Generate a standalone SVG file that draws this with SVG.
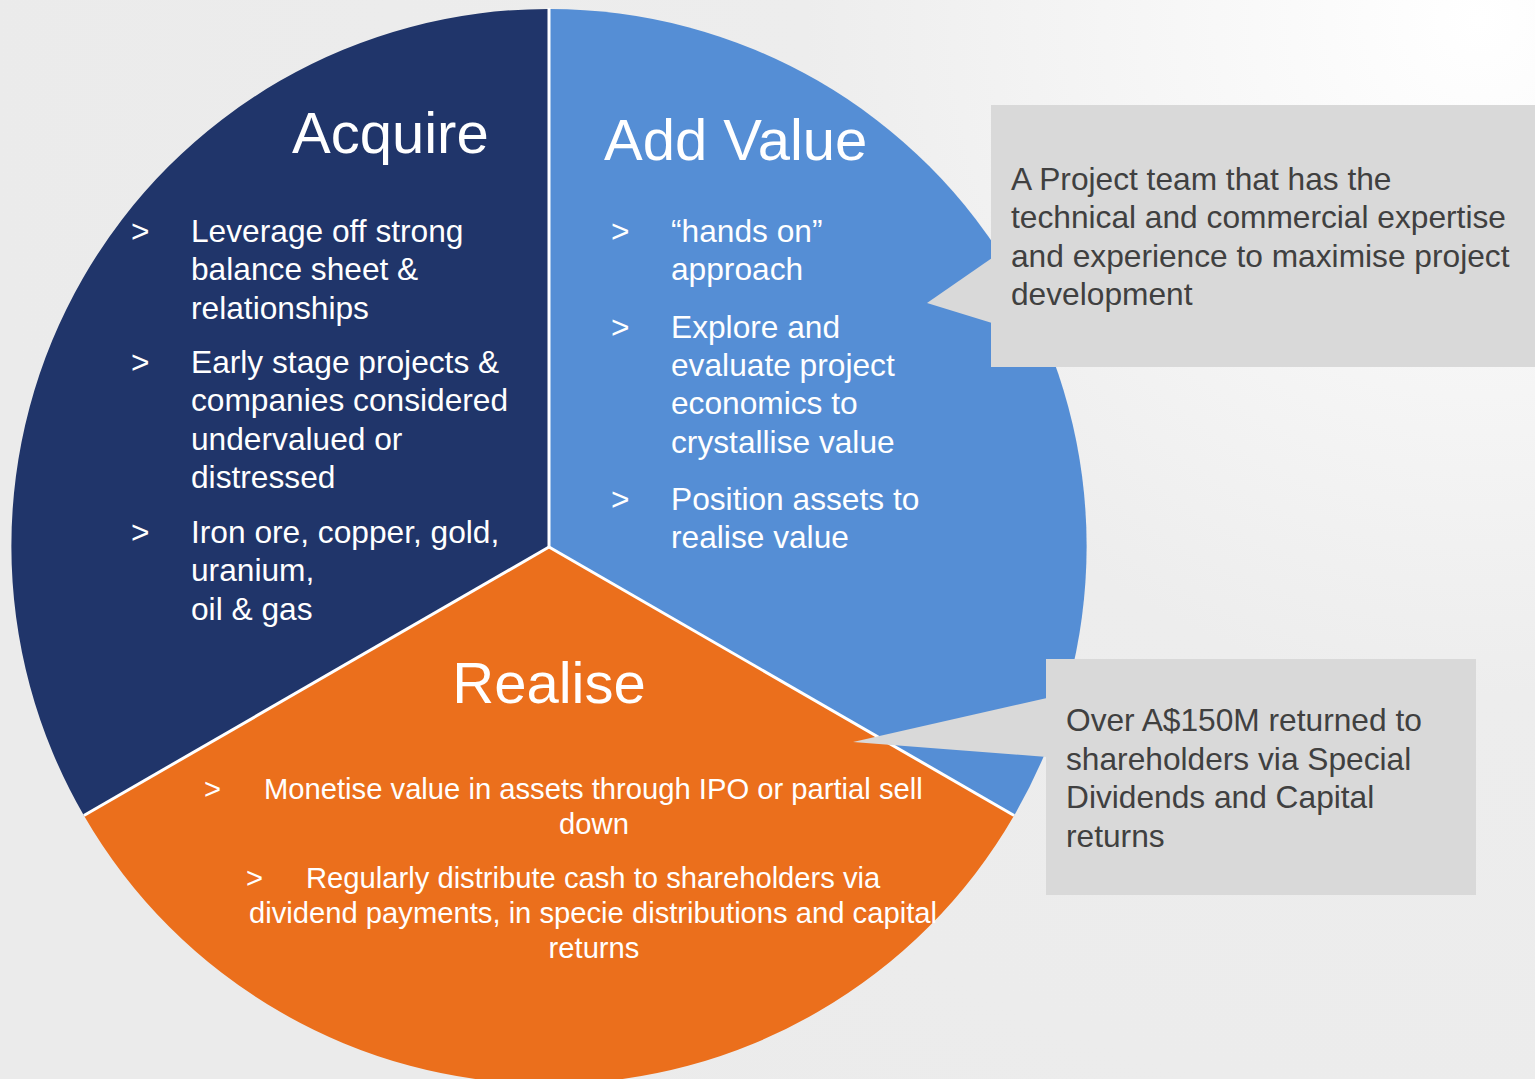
<svg xmlns="http://www.w3.org/2000/svg" width="1535" height="1079" viewBox="0 0 1535 1079">
  <defs>
    <radialGradient id="bg" cx="1480" cy="20" r="1500" gradientUnits="userSpaceOnUse">
      <stop offset="0" stop-color="#ffffff"/>
      <stop offset="0.45" stop-color="#ededed"/>
      <stop offset="1" stop-color="#ebebeb"/>
    </radialGradient>
    <style>
      text { font-family: "Liberation Sans", Arial, sans-serif; }
      .title { font-size: 58px; fill: #ffffff; }
      .item { font-size: 31.7px; fill: #ffffff; }
      .small { font-size: 29.2px; fill: #ffffff; }
      .note { font-size: 31.7px; fill: #404040; }
      .callout { fill: #d9d9d9; }
      .sep { stroke: #ffffff; stroke-width: 3; fill: none; }
    </style>
  </defs>

  <rect width="1535" height="1079" fill="url(#bg)"/>

  <!-- Acquire slice -->
  <g id="acquire">
    <path d="M549,547 L549,9 A537,537 0 0 0 83.9,815.5 Z" fill="#20356a"/>
    <text class="title" x="292" y="153">Acquire</text>
    <text class="item" x="131" y="242">&gt;</text>
    <text class="item" x="191" y="242">Leverage off strong</text>
    <text class="item" x="191" y="280">balance sheet &amp;</text>
    <text class="item" x="191" y="319">relationships</text>
    <text class="item" x="131" y="373">&gt;</text>
    <text class="item" x="191" y="373">Early stage projects &amp;</text>
    <text class="item" x="191" y="411">companies considered</text>
    <text class="item" x="191" y="450">undervalued or</text>
    <text class="item" x="191" y="488">distressed</text>
    <text class="item" x="131" y="543">&gt;</text>
    <text class="item" x="191" y="543">Iron ore, copper, gold,</text>
    <text class="item" x="191" y="581">uranium,</text>
    <text class="item" x="191" y="620">oil &amp; gas</text>
  </g>

  <!-- Add Value slice -->
  <g id="add-value">
    <path d="M549,547 L549,9 A537,537 0 0 1 1014.1,815.5 Z" fill="#558ed5"/>
    <text class="title" x="604" y="160">Add Value</text>
    <text class="item" x="611" y="242">&gt;</text>
    <text class="item" x="671" y="242">“hands on”</text>
    <text class="item" x="671" y="280">approach</text>
    <text class="item" x="611" y="338">&gt;</text>
    <text class="item" x="671" y="338">Explore and</text>
    <text class="item" x="671" y="376">evaluate project</text>
    <text class="item" x="671" y="414">economics to</text>
    <text class="item" x="671" y="453">crystallise value</text>
    <text class="item" x="611" y="510">&gt;</text>
    <text class="item" x="671" y="510">Position assets to</text>
    <text class="item" x="671" y="548">realise value</text>
  </g>

  <!-- Realise slice -->
  <g id="realise">
    <path d="M549,547 L1014.1,815.5 A537,537 0 0 1 83.9,815.5 Z" fill="#eb6f1c"/>
    <text class="title" x="549" y="703" text-anchor="middle">Realise</text>
    <text class="small" x="204" y="799">&gt;</text>
    <text class="small" x="264" y="799">Monetise value in assets through IPO or partial sell</text>
    <text class="small" x="594" y="834" text-anchor="middle">down</text>
    <text class="small" x="246" y="888">&gt;</text>
    <text class="small" x="306" y="888">Regularly distribute cash to shareholders via</text>
    <text class="small" x="593" y="923" text-anchor="middle">dividend payments, in specie distributions and capital</text>
    <text class="small" x="594" y="958" text-anchor="middle">returns</text>
  </g>

  <!-- slice dividers -->
  <g id="connectors">
    <line class="sep" x1="549" y1="547" x2="549" y2="8"/>
    <line class="sep" x1="549" y1="547" x2="83.9" y2="815.5"/>
    <line class="sep" x1="549" y1="547" x2="1014.1" y2="815.5"/>
  </g>

  <!-- Project team callout -->
  <g id="callout-team">
    <rect class="callout" x="991" y="105" width="544" height="262"/>
    <polygon class="callout" points="992,258 927,303 992,323"/>
    <text class="note" x="1011" y="190">A Project team that has the</text>
    <text class="note" x="1011" y="228">technical and commercial expertise</text>
    <text class="note" x="1011" y="267">and experience to maximise project</text>
    <text class="note" x="1011" y="305">development</text>
  </g>

  <!-- Returns callout -->
  <g id="callout-returns">
    <rect class="callout" x="1046" y="659" width="430" height="236"/>
    <polygon class="callout" points="1047,698 853,742 1047,757"/>
    <text class="note" x="1066" y="731">Over A$150M returned to</text>
    <text class="note" x="1066" y="770">shareholders via Special</text>
    <text class="note" x="1066" y="808">Dividends and Capital</text>
    <text class="note" x="1066" y="847">returns</text>
  </g>
</svg>
